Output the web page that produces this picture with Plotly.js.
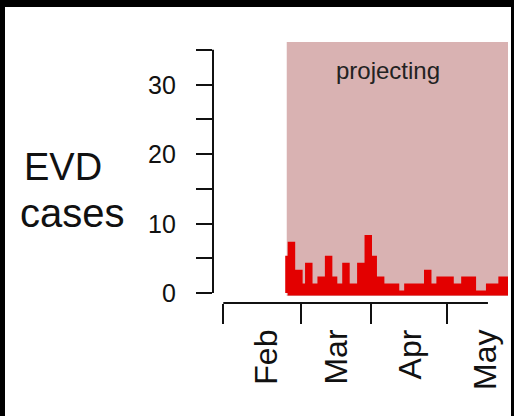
<!DOCTYPE html>
<html>
<head>
<meta charset="utf-8">
<script src="https://cdn.plot.ly/plotly-3.0.1.min.js"></script>
<style>
html,body{margin:0;padding:0;background:#000;width:514px;height:416px;overflow:hidden;}
#chart{position:absolute;left:5px;top:7px;width:506px;height:409px;background:#fff;}
</style>
</head>
<body>
<div id="chart"></div>
<script>
// x unit: days counted from 1 February
const firstDay = 26;            // first projected day
const projectionStart = 25.6;   // start of the shaded "projecting" window
const cases = [5, 7, 3,3,3, 1,1,1, 4, 1,1,1,1, 2,2,2, 5, 2,2, 1,1,1,1, 4, 1,1,1,1,1,
               4,4,4, 8, 5,5, 2,2,2, 1,1,1,1,1,1, 0,0,0,0, 1,1,1,1,1,1,1,1, 3, 1,1,1,1,
               2,2,2,2,2, 1,1,1,1,1, 2,2,2,2, 0,0,0,0,0,0, 1,1,1,1,1, 2,2,2];
const monthLabels = ['Feb', 'Mar', 'Apr', 'May'];
const monthTickDays = [0, 31.3, 59.6, 90.3];
const monthLabelDays = [17.1, 45.3, 75.3, 105.4];
const yTickVals = [0, 5, 10, 15, 20, 25, 30, 35];
const yLabelVals = [0, 10, 20, 30];
const yTitleLines = ['EVD', 'cases'];
const bandLabel = 'projecting';

// build closed step polygon from the daily counts
const days = cases.map((c, i) => firstDay + i);
const lastEdge = days[days.length - 1] + 1;
const px = [days[0]].concat(days, [lastEdge, lastEdge, days[0]]);
const py = [0].concat(cases, [cases[cases.length - 1], 0, 0]);

const xRange = [-4.157, 114.89];
const yRange = [-1.439, 36.115];
const FONT = 'Liberation Sans, Arial, Helvetica, sans-serif';

// plot area in page pixels: x 213..508, y 42..303
const xp = p => (p - 213) / 295;
const yp = p => (303 - p) / 261;

const annotations = [];
yLabelVals.forEach(v => annotations.push({
  text: String(v), xref: 'paper', yref: 'y', x: xp(178), y: v,
  xanchor: 'right', yanchor: 'middle', showarrow: false,
  font: {family: FONT, size: 25, color: '#111'}
}));
monthLabels.forEach((m, i) => annotations.push({
  text: m, xref: 'x', yref: 'paper', x: monthLabelDays[i], y: yp(327.5),
  xanchor: 'center', yanchor: 'top', textangle: -90, showarrow: false,
  font: {family: FONT, size: 32, color: '#111'}
}));
annotations.push({
  text: yTitleLines[0], xref: 'paper', yref: 'paper', x: xp(21.7), y: yp(166.8),
  xanchor: 'left', yanchor: 'middle', showarrow: false,
  font: {family: FONT, size: 38, color: '#111'}
});
annotations.push({
  text: yTitleLines[1], xref: 'paper', yref: 'paper', x: xp(18.3), y: yp(212.8),
  xanchor: 'left', yanchor: 'middle', showarrow: false,
  font: {family: FONT, size: 40, color: '#111'}
});
annotations.push({
  text: bandLabel, xref: 'paper', yref: 'paper', x: xp(387.5), y: yp(70),
  xanchor: 'center', yanchor: 'middle', showarrow: false,
  font: {family: FONT, size: 24, color: '#222'}
});

const trace = {
  type: 'scatter', mode: 'lines', x: px, y: py,
  line: {shape: 'hv', color: '#e30000', width: 5},
  fill: 'toself', fillcolor: '#e30000', hoverinfo: 'skip', showlegend: false
};

const layout = {
  width: 506, height: 409,
  margin: {l: 208, r: 3, t: 35, b: 113, pad: 0},
  paper_bgcolor: '#fff', plot_bgcolor: '#fff',
  showlegend: false,
  font: {family: FONT, color: '#111'},
  xaxis: {
    range: xRange, showgrid: false, zeroline: false, showline: false,
    ticks: 'outside', ticklen: 20, tickwidth: 2, tickcolor: '#111',
    tickmode: 'array', tickvals: monthTickDays, showticklabels: false, fixedrange: true
  },
  yaxis: {
    range: yRange, showgrid: false, zeroline: false, showline: false,
    ticks: 'outside', ticklen: 16, tickwidth: 2, tickcolor: '#111',
    tickmode: 'array', tickvals: yTickVals, showticklabels: false, fixedrange: true
  },
  shapes: [
    {type: 'rect', xref: 'x', yref: 'paper', x0: projectionStart, x1: xRange[1],
     y0: yp(296), y1: 1, fillcolor: '#d9b2b2', line: {width: 0}, layer: 'below'},
    {type: 'line', xref: 'paper', yref: 'y', x0: 0, x1: 0,
     y0: yTickVals[0], y1: yTickVals[yTickVals.length - 1], line: {color: '#111', width: 2}},
    {type: 'line', xref: 'x', yref: 'paper', x0: monthTickDays[0], x1: 106.8,
     y0: 0, y1: 0, line: {color: '#111', width: 2}}
  ],
  annotations: annotations
};

Plotly.newPlot('chart', [trace], layout, {staticPlot: true, displayModeBar: false});
</script>
</body>
</html>
